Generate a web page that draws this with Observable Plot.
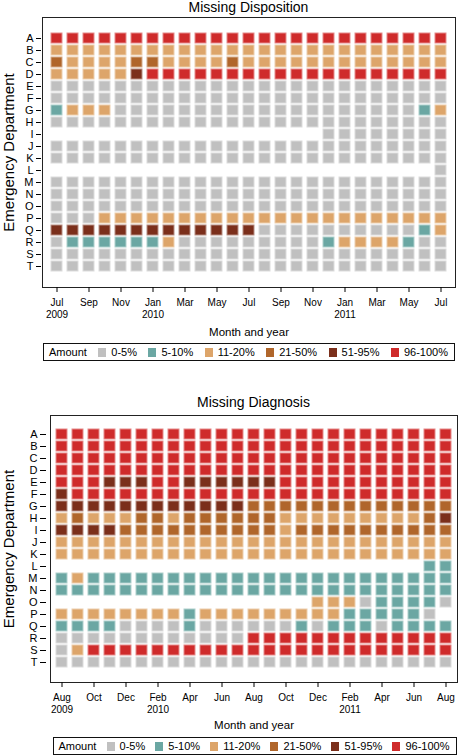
<!DOCTYPE html>
<html>
<head>
<meta charset="utf-8">
<script src="https://cdn.jsdelivr.net/npm/d3@7"></script>
<script src="https://cdn.jsdelivr.net/npm/@observablehq/plot@0.6"></script>
<style>
  body { margin: 0; background: #fff; font-family: "Liberation Sans", Arial, sans-serif; color: #000; }
  #page { position: relative; width: 460px; height: 756px; overflow: hidden; }
  .chart { position: absolute; left: 0; }
  .title { position: absolute; font-size: 14px; line-height: 16px; text-align: center; white-space: nowrap; }
  .legend { position: absolute; box-sizing: border-box; border: 1px solid #111; display: flex; align-items: center;
            justify-content: space-between; padding: 0 6px 0 5px; font-size: 11px; white-space: nowrap; }
  .legend .item { display: flex; align-items: center; }
  .legend .sw { width: 8px; height: 9px; margin-right: 5px; display: inline-block; }
</style>
</head>
<body>
<div id="page"></div>
<script>
// ---------- data ----------
const departments = ["A","B","C","D","E","F","G","H","I","J","K","L","M","N","O","P","Q","R","S","T"];

const amountLabels = ["0-5%", "5-10%", "11-20%", "21-50%", "51-95%", "96-100%"];
const amountColors = ["#c0c0c0", "#6ba7a3", "#dda56a", "#b0662b", "#7b2f1b", "#cf2b2b"];

const dispositionMonths = [
  "Jul 2009","Aug 2009","Sep 2009","Oct 2009","Nov 2009","Dec 2009",
  "Jan 2010","Feb 2010","Mar 2010","Apr 2010","May 2010","Jun 2010",
  "Jul 2010","Aug 2010","Sep 2010","Oct 2010","Nov 2010","Dec 2010",
  "Jan 2011","Feb 2011","Mar 2011","Apr 2011","May 2011","Jun 2011","Jul 2011"
];
const dispositionTickMonths = ["Jul 2009","Sep 2009","Nov 2009","Jan 2010","Mar 2010","May 2010","Jul 2010",
  "Sep 2010","Nov 2010","Jan 2011","Mar 2011","May 2011","Jul 2011"];
const dispositionTickLabels = ["Jul\n2009","Sep","Nov","Jan\n2010","Mar","May","Jul",
  "Sep","Nov","Jan\n2011","Mar","May","Jul"];

const diagnosisMonths = [
  "Aug 2009","Sep 2009","Oct 2009","Nov 2009","Dec 2009","Jan 2010",
  "Feb 2010","Mar 2010","Apr 2010","May 2010","Jun 2010","Jul 2010",
  "Aug 2010","Sep 2010","Oct 2010","Nov 2010","Dec 2010","Jan 2011",
  "Feb 2011","Mar 2011","Apr 2011","May 2011","Jun 2011","Jul 2011","Aug 2011"
];
const diagnosisTickMonths = ["Aug 2009","Oct 2009","Dec 2009","Feb 2010","Apr 2010","Jun 2010","Aug 2010",
  "Oct 2010","Dec 2010","Feb 2011","Apr 2011","Jun 2011","Aug 2011"];
const diagnosisTickLabels = ["Aug\n2009","Oct","Dec","Feb\n2010","Apr","Jun","Aug",
  "Oct","Dec","Feb\n2011","Apr","Jun","Aug"];

// one string per department; each character is the amount class index for a month, "-" = no data
const dispositionCodes = [
  "5555555555555555555555555", // A
  "2222222222222222222222222", // B
  "3222233222232222222222222", // C
  "2222245555555555555555555", // D
  "0000000000000000000000000", // E
  "0000000000000000000000000", // F
  "1222000000000000000000012", // G
  "0000000000000000000000000", // H
  "-----------------00000000", // I
  "0000000000000000000000000", // J
  "0000000000000000000000000", // K
  "------------------------0", // L
  "0000000000000000000000000", // M
  "0000000000000000000000000", // N
  "0000000000000000000000000", // O
  "0002222222222222222222222", // P
  "4444444444444000000000012", // Q
  "0111111200000000012222100", // R
  "0000000000000000000000000", // S
  "0000000000000000000000000"  // T
];

const diagnosisCodes = [
  "5555555555555555555555555", // A
  "5555555555555555555555555", // B
  "5555555555555555555555555", // C
  "5555555555555555555555555", // D
  "5554445544444455555555555", // E
  "4555555555555555555555555", // F
  "4444444444443333333333333", // G
  "2322233233333322222222234", // H
  "4444333333333323333333333", // I
  "2222222222222222222222222", // J
  "2222222222222222222222222", // K
  "-----------------------11", // L
  "1211111111111111111111111", // M
  "1111111111111111111111111", // N
  "----------------222011110", // O
  "222222221222222222111110-", // P
  "1111000010000001011101111", // Q
  "0000000000005555555555555", // R
  "0255555555555555555555555", // S
  "0000000000000000000000000"  // T
];

// ---------- helpers ----------
function toCells(codes, months) {
  const cells = [];
  codes.forEach((row, r) => {
    for (let i = 0; i < months.length; i++) {
      const ch = row[i];
      if (ch === undefined || ch === "-") continue;
      cells.push({dept: departments[r], month: months[i], amount: +ch});
    }
  });
  return cells;
}
const halo = amountColors.map(c => d3.interpolateRgb(c, "#ffffff")(0.45));

function heatmap({codes, months, tickMonths, tickLabels, height, marginLeft, marginRight, marginTop, marginBottom,
                  xPad, yPad, yAxisDx, yTickSize, yTitleDx, xTitleDy}) {
  const tickMap = new Map(tickMonths.map((m, i) => [m, tickLabels[i]]));
  return Plot.plot({
    width: 460,
    height,
    marginLeft, marginRight, marginTop, marginBottom,
    style: {fontFamily: "Liberation Sans, Arial, sans-serif", fontSize: "10px", color: "#000", background: "transparent"},
    x: {type: "band", domain: months, paddingInner: xPad[0], paddingOuter: xPad[1]},
    y: {type: "band", domain: departments, paddingInner: yPad[0], paddingOuter: yPad[1]},
    color: {type: "identity"},
    marks: [
      Plot.cell(toCells(codes, months), {
        x: "month", y: "dept",
        fill: d => amountColors[d.amount],
        stroke: d => halo[d.amount],
        strokeWidth: 1
      }),
      Plot.frame({stroke: "#222", strokeWidth: 1}),
      Plot.axisX({ticks: tickMonths, tickFormat: d => tickMap.get(d), tickSize: 5, tickPadding: 5,
                  fontSize: 10, lineHeight: 1.2, label: null}),
      Plot.axisY({tickSize: yTickSize, tickPadding: 3, fontSize: 11, label: null, dx: yAxisDx}),
      Plot.text(["Emergency Department"], {text: d => d, frameAnchor: "left", dx: yTitleDx, rotate: -90,
                  textAnchor: "middle", lineAnchor: "middle", fontSize: 15}),
      Plot.text(["Month and year"], {text: d => d, frameAnchor: "bottom", dy: xTitleDy,
                  textAnchor: "middle", lineAnchor: "middle", fontSize: 11.5})
    ]
  });
}

function legend(left, top, width, height) {
  const div = document.createElement("div");
  div.className = "legend";
  Object.assign(div.style, {left: left + "px", top: top + "px", width: width + "px", height: height + "px"});
  const lab = document.createElement("span");
  lab.textContent = "Amount";
  div.appendChild(lab);
  amountLabels.forEach((t, i) => {
    const it = document.createElement("span");
    it.className = "item";
    const sw = document.createElement("span");
    sw.className = "sw";
    sw.style.background = amountColors[i];
    it.appendChild(sw);
    it.appendChild(document.createTextNode(t));
    div.appendChild(it);
  });
  return div;
}

function title(text, left, top, width) {
  const div = document.createElement("div");
  div.className = "title";
  div.textContent = text;
  Object.assign(div.style, {left: left + "px", top: top + "px", width: width + "px"});
  return div;
}

// ---------- build ----------
const page = document.getElementById("page");

const chart1 = heatmap({
  codes: dispositionCodes, months: dispositionMonths,
  tickMonths: dispositionTickMonths, tickLabels: dispositionTickLabels,
  height: 340, marginLeft: 42, marginRight: 5, marginTop: 17, marginBottom: 53,
  xPad: [0.32, 0.36], yPad: [0.2, 0.5], yAxisDx: -1, yTickSize: 5, yTitleDx: -33, xTitleDy: 45
});
chart1.classList.add("chart");
chart1.style.top = "0px";
page.appendChild(chart1);
page.appendChild(title("Missing Disposition", 42, -1.5, 413));
page.appendChild(legend(43, 343, 412, 18));

const chart2 = heatmap({
  codes: diagnosisCodes, months: diagnosisMonths,
  tickMonths: diagnosisTickMonths, tickLabels: diagnosisTickLabels,
  height: 355, marginLeft: 50, marginRight: 3, marginTop: 35, marginBottom: 53,
  xPad: [0.32, 0.34], yPad: [0.15, 0.5], yAxisDx: -4, yTickSize: 6, yTitleDx: -41, xTitleDy: 43
});
chart2.classList.add("chart");
chart2.style.top = "380px";
page.appendChild(chart2);
page.appendChild(title("Missing Diagnosis", 50, 394, 407));
page.appendChild(legend(52.5, 737, 404, 18));
</script>
</body>
</html>
